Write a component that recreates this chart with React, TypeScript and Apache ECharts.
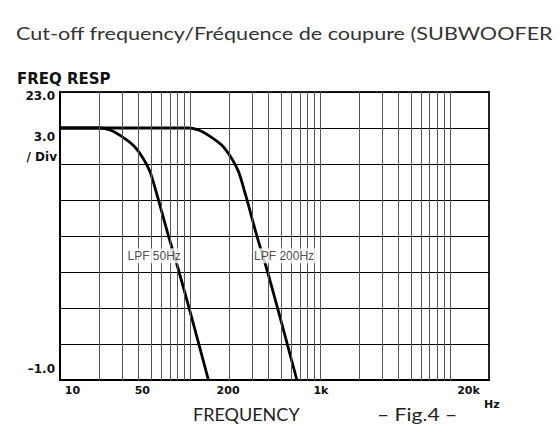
import React, { useEffect, useRef } from 'react';
import * as echarts from 'echarts';

const titleText = 'Cut-off frequency/Fréquence de coupure (SUBWOOFER';
const yTitle = 'FREQ RESP';
const yDivLabels = ['3.0', '/ Div'];
const xTitle = 'FREQUENCY';
const figText = '– Fig.4 –';
const xUnit = 'Hz';

const xTickValues = [10, 50, 200, 1000, 20000];
const xTickLabels = ['10', '50', '200', '1k', '20k'];
const yTickValues = [23, -1];
const yTickLabels = ['23.0', '–1.0'];

// frequency grid lines (Hz)
const gridFreqs = [
  20, 30, 40, 50, 60, 70, 80, 90, 100,
  200, 300, 400, 500, 600, 700, 800, 900, 1000,
  2000, 3000, 4000, 5000, 6000, 7000, 8000, 9000, 10000,
];

// LPF 50Hz curve (Hz, dB)
const lpf50Freq = [10, 20.3, 24.3, 29, 36.6, 43.8, 49.3, 55.8, 68.3, 80, 103.3, 138.7];
const lpf50Gain = [20, 20, 19.83, 19.39, 18.56, 17.44, 16.35, 14.42, 11.01, 8.5, 4.17, -1];

// LPF 200Hz curve (Hz, dB)
const lpf200Freq = [10, 50, 97.5, 116.4, 139, 176, 210, 236.6, 268, 327, 384, 495, 665];
const lpf200Gain = [20, 20, 20, 19.83, 19.39, 18.56, 17.44, 16.35, 14.42, 11.01, 8.5, 4.17, -1];

const curveLabels = ['LPF 50Hz', 'LPF 200Hz'];
const curveLabelFreq = [53, 530];
const curveLabelGain = [9.35, 9.35];

const zip = (a: number[], b: number[]) => a.map((v, i) => [v, b[i]]);

// horizontal nudges of x labels (pixels of padding)
const xLabelPad: number[][] = [
  [0, 0, 0, 25],
  [0, 17, 0, 0],
  [0, 2, 0, 0],
  [0, 0, 0, 2],
  [0, 41, 0, 0],
];

export default function App() {
  const ref = useRef<HTMLDivElement>(null);
  useEffect(() => {
    document.body.style.margin = '0';
    const chart = echarts.init(ref.current!, null, { renderer: 'svg' });
    const xRich: Record<string, any> = {};
    xTickLabels.forEach((_, i) => {
      xRich['x' + i] = {
        fontFamily: 'DejaVu Sans',
        fontWeight: 'bold',
        fontSize: 11,
        color: '#111',
        padding: xLabelPad[i],
      };
    });
    const boldFont = 'DejaVu Sans';
    const curveStyle = { color: '#000', width: 2.8 };
    chart.setOption({
      animation: false,
      backgroundColor: '#fff',
      grid: {
        left: 60,
        right: 71,
        top: 92,
        bottom: 65,
        show: true,
        borderColor: '#222',
        borderWidth: 2,
        backgroundColor: 'transparent',
      },
      xAxis: {
        type: 'log',
        logBase: 10,
        min: 10,
        max: 20000,
        axisLine: { show: true, onZero: false, lineStyle: { color: '#000', width: 2 } },
        axisTick: { show: false },
        splitLine: { show: false },
        minorSplitLine: { show: false },
        axisLabel: {
          show: true,
          customValues: xTickValues,
          margin: 5,
          formatter: (v: number) => {
            const i = xTickValues.findIndex((t) => Math.abs(t - v) / t < 1e-6);
            return i >= 0 ? `{x${i}|${xTickLabels[i]}}` : '';
          },
          rich: xRich,
        },
      },
      yAxis: {
        type: 'value',
        min: -1,
        max: 23,
        interval: 3,
        axisLine: { show: true, onZero: false, lineStyle: { color: '#000', width: 2 } },
        axisTick: { show: false },
        splitLine: { show: true, lineStyle: { color: '#000', width: 1 } },
        axisLabel: {
          show: true,
          margin: 5,
          formatter: (v: number) => {
            const i = yTickValues.indexOf(v);
            if (i === 0) return `{top|${yTickLabels[0]}}`;
            if (i === 1) return `{bot|${yTickLabels[1]}}`;
            return '';
          },
          rich: {
            top: { fontFamily: boldFont, fontWeight: 'bold', fontSize: 12, color: '#111', padding: [8, 0, 0, 0] },
            bot: { fontFamily: boldFont, fontWeight: 'bold', fontSize: 12, color: '#111', padding: [0, 0, 22, 0] },
          },
        },
      },
      series: [
        {
          type: 'line',
          name: 'grid',
          data: [],
          z: 1,
          silent: true,
          markLine: {
            silent: true,
            symbol: ['none', 'none'],
            label: { show: false },
            lineStyle: { type: 'solid', color: '#555', width: 1 },
            data: gridFreqs.map((f) => ({ xAxis: f })),
          },
        },
        {
          type: 'line',
          name: curveLabels[0],
          data: zip(lpf50Freq, lpf50Gain),
          smooth: 0.3,
          showSymbol: false,
          z: 3,
          lineStyle: curveStyle,
        },
        {
          type: 'line',
          name: curveLabels[1],
          data: zip(lpf200Freq, lpf200Gain),
          smooth: 0.3,
          showSymbol: false,
          z: 3,
          lineStyle: curveStyle,
        },
        {
          type: 'scatter',
          name: 'labels',
          z: 10,
          symbolSize: 0,
          data: curveLabels.map((t, i) => ({ value: [curveLabelFreq[i], curveLabelGain[i]], name: t })),
          label: {
            show: true,
            position: 'inside',
            formatter: (p: any) => p.name,
            fontFamily: 'Liberation Sans',
            fontSize: 12,
            color: '#222',
            backgroundColor: '#fff',
            padding: [2, 1, 1, 1],
          },
        },
      ],
      graphic: [
        {
          type: 'text',
          x: 16,
          y: 33,
          scaleX: 1.2,
          style: { text: titleText, font: '18px Lato', fill: '#333', verticalAlign: 'middle', align: 'left' },
        },
        {
          type: 'text',
          x: 17,
          y: 79,
          style: { text: yTitle, font: 'bold 15px "DejaVu Sans"', fill: '#111', verticalAlign: 'middle', align: 'left' },
        },
        {
          type: 'text',
          x: 55,
          y: 137,
          style: { text: yDivLabels[0], font: 'bold 12px "DejaVu Sans"', fill: '#111', verticalAlign: 'middle', align: 'right' },
        },
        {
          type: 'text',
          x: 57,
          y: 157,
          style: { text: yDivLabels[1], font: 'bold 12px "DejaVu Sans"', fill: '#111', verticalAlign: 'middle', align: 'right' },
        },
        {
          type: 'text',
          x: 193,
          y: 414,
          style: { text: xTitle, font: '18px Lato', fill: '#222', verticalAlign: 'middle', align: 'left' },
        },
        {
          type: 'text',
          x: 377,
          y: 414,
          scaleX: 1.17,
          style: { text: figText, font: '18px Lato', fill: '#222', verticalAlign: 'middle', align: 'left' },
        },
        {
          type: 'text',
          x: 484,
          y: 404,
          style: { text: xUnit, font: 'bold 11px "DejaVu Sans"', fill: '#111', verticalAlign: 'middle', align: 'left' },
        },
      ],
    });
    return () => chart.dispose();
  }, []);
  return <div ref={ref} style={{ width: 560, height: 445 }} />;
}
